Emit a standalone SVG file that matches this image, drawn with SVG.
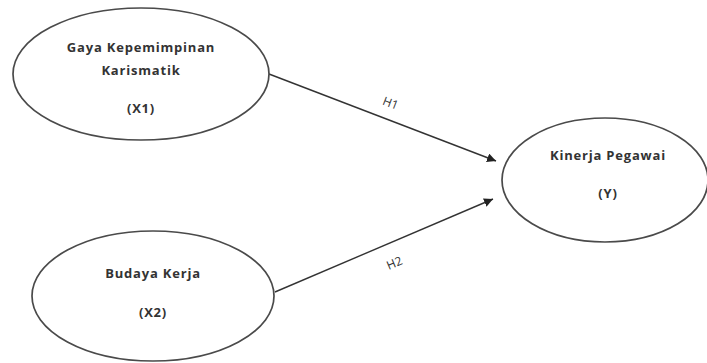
<svg xmlns="http://www.w3.org/2000/svg" width="707" height="363" viewBox="0 0 707 363">
<style>
.node ellipse{fill:#fff;stroke:#4a4a4a;stroke-width:1.7}
.lbl{font-family:"Open Sans","Liberation Sans",sans-serif;font-weight:700;font-size:13px;letter-spacing:0.8px;fill:#333;text-anchor:middle}
.edge{stroke:#333;stroke-width:1.4;fill:none}
.el{font-family:"Open Sans","Liberation Sans",sans-serif;font-size:12px;fill:#333;text-anchor:middle}
</style>
<defs>
<marker id="ah" viewBox="0 0 10 10" refX="10" refY="5" markerWidth="9" markerHeight="9" markerUnits="userSpaceOnUse" orient="auto">
<path d="M0,0 L10,5 L0,10 z" fill="#222"/>
</marker>
</defs>
<rect width="707" height="363" fill="#fff"/>
<g id="connectors">
<line class="edge" x1="269" y1="74" x2="496" y2="161" marker-end="url(#ah)"/>
<line class="edge" x1="275" y1="292" x2="493" y2="199" marker-end="url(#ah)"/>
<text class="el" transform="translate(389,107) rotate(21)">H1</text>
<text class="el" transform="translate(396,267) rotate(-23)">H2</text>
</g>
<g id="x1" class="node">
<ellipse cx="141" cy="74" rx="128" ry="66"/>
<text class="lbl" x="141" y="52">Gaya Kepemimpinan</text>
<text class="lbl" x="141" y="75">Karismatik</text>
<text class="lbl" x="141" y="113">(X1)</text>
</g>
<g id="x2" class="node">
<ellipse cx="153" cy="296" rx="121" ry="65"/>
<text class="lbl" x="153" y="278">Budaya Kerja</text>
<text class="lbl" x="153" y="317">(X2)</text>
</g>
<g id="y" class="node">
<ellipse cx="605" cy="180" rx="103" ry="62"/>
<text class="lbl" x="608" y="160">Kinerja Pegawai</text>
<text class="lbl" x="608" y="198">(Y)</text>
</g>
</svg>
